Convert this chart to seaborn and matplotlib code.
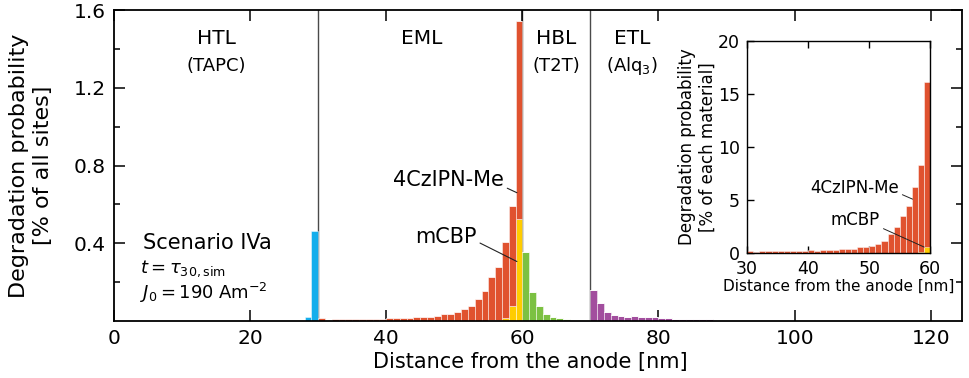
import numpy as np
import pandas as pd
import matplotlib
matplotlib.use("Agg")
import matplotlib.pyplot as plt
import seaborn as sns

# ---------------- data ----------------
# main panel: degradation probability [% of all sites], 1-nm slices
tapc_start = 28
tapc = [0.021, 0.465]

eml_start = 30
dopant_all = [0.014, 0.005, 0.009, 0.012, 0.009, 0.009, 0.009, 0.009, 0.009, 0.010,
              0.015, 0.014, 0.015, 0.017, 0.020, 0.022, 0.022, 0.026, 0.036, 0.036,
              0.046, 0.060, 0.077, 0.110, 0.154, 0.222, 0.276, 0.388, 0.515, 1.017]
mcbp_all = [0.0, 0.0, 0.0, 0.0, 0.0, 0.0, 0.0, 0.0, 0.0, 0.0,
            0.0, 0.0, 0.0, 0.0, 0.0, 0.0, 0.0, 0.0, 0.0, 0.0,
            0.0, 0.0, 0.0, 0.002, 0.002, 0.003, 0.004, 0.017, 0.079, 0.526]

t2t_start = 60
t2t = [0.357, 0.151, 0.075, 0.035, 0.023, 0.016, 0.010, 0.006, 0.004, 0.003]

alq3_start = 70
alq3 = [0.160, 0.093, 0.044, 0.032, 0.026, 0.020, 0.028, 0.019, 0.020, 0.020,
        0.014, 0.014, 0.012, 0.011, 0.011, 0.010, 0.009, 0.008, 0.007, 0.006,
        0.004, 0.004, 0.004, 0.003, 0.003, 0.002, 0.002, 0.002, 0.002, 0.002,
        0.002, 0.002, 0.002, 0.002, 0.002, 0.002, 0.002, 0.002, 0.002, 0.002,
        0.002, 0.002, 0.002, 0.002, 0.002, 0.002, 0.002, 0.002, 0.002, 0.002,
        0.002, 0.002, 0.002, 0.002]

# inset: degradation probability [% of each material] in the EML
inset_dopant = [0.22, 0.08, 0.14, 0.19, 0.14, 0.14, 0.14, 0.14, 0.14, 0.16,
                0.24, 0.22, 0.24, 0.27, 0.30, 0.35, 0.35, 0.41, 0.53, 0.57,
                0.69, 0.82, 1.13, 1.76, 2.40, 3.50, 4.46, 6.20, 8.30, 16.10]
inset_mcbp = [0.0] * 27 + [0.02, 0.08, 0.55]

# first hue level is stacked on top in seaborn's "stack" mode
materials = ["TAPC", "4CzIPN-Me", "mCBP", "T2T", "Alq3"]
colors = {"TAPC": "#14AEEC", "mCBP": "#FFCC00", "4CzIPN-Me": "#E0522F",
          "T2T": "#7CC142", "Alq3": "#A24E9E"}

layer_names = ["HTL", "EML", "HBL", "ETL"]
layer_mats = ["(TAPC)", "", "(T2T)", "(Alq$_3$)"]
layer_x = [15.1, 45.2, 65.0, 76.1]
boundaries = [30, 60, 70]


def frame(start, values, mat):
    pos = start + np.arange(len(values)) + 0.5
    return pd.DataFrame({"pos": pos, "value": np.asarray(values, float), "material": mat})


df = pd.concat([frame(tapc_start, tapc, "TAPC"),
                frame(eml_start, mcbp_all, "mCBP"),
                frame(eml_start, dopant_all, "4CzIPN-Me"),
                frame(t2t_start, t2t, "T2T"),
                frame(alq3_start, alq3, "Alq3")], ignore_index=True)

df_in_dop = frame(eml_start, inset_dopant, "4CzIPN-Me")
df_in_mcbp = frame(eml_start, inset_mcbp, "mCBP")

# ---------------- figure ----------------
sns.set_style("ticks")
plt.rcParams.update({
    "font.family": ["DejaVu Sans"],
    "mathtext.fontset": "dejavusans",
    "text.color": "black",
    "axes.labelcolor": "black",
    "axes.edgecolor": "black",
    "xtick.color": "black",
    "ytick.color": "black",
})

fig = plt.figure(figsize=(9.69, 3.78), dpi=100)
ax = fig.add_axes([0.1176, 0.1508, 0.8749, 0.8227])

edge = (1, 1, 1, 0.55)
sns.histplot(data=df, x="pos", weights="value", hue="material",
             hue_order=materials, palette=colors, binwidth=1, binrange=(0, 124),
             multiple="stack", element="bars", alpha=1, edgecolor=edge,
             linewidth=0.6, legend=False, ax=ax)

for b in boundaries:
    ax.axvline(b, color="#4a4a4a", lw=1.0, zorder=0.5)

ax.set_xlim(0, 124.55)
ax.set_ylim(0, 1.6)
ax.set_xticks(np.arange(0, 121, 20))
ax.set_yticks([0.4, 0.8, 1.2, 1.6])
ax.set_yticks([0.2, 0.6, 1.0, 1.4], minor=True)
ax.set_yticklabels(["0.4", "0.8", "1.2", "1.6"])
ax.tick_params(which="both", direction="in", top=True, right=True, width=1.1,
               labelsize=14.5, pad=6)
ax.tick_params(which="major", length=8)
ax.tick_params(which="minor", length=4)
for s in ax.spines.values():
    s.set_linewidth(1.3)
ax.set_xlabel("Distance from the anode [nm]", fontsize=15)
ax.xaxis.set_label_coords(0.491, -0.100)
ax.set_ylabel("Degradation probability\n[% of all sites]", fontsize=16, labelpad=15)

for name, mat, x in zip(layer_names, layer_mats, layer_x):
    ax.text(x, 1.452, name, ha="center", va="center", fontsize=14.5)
    if mat:
        ax.text(x, 1.31, mat, ha="center", va="center", fontsize=13)

ax.text(4.2, 0.40, "Scenario IVa", ha="left", va="center", fontsize=15)
ax.text(3.8, 0.267, r"$t = \tau_{30,\mathrm{sim}}$", ha="left", va="center", fontsize=13)
ax.text(3.8, 0.143, r"$J_0 = 190\;\mathrm{Am}^{-2}$", ha="left", va="center", fontsize=13)

ax.annotate("4CzIPN-Me", xy=(59.2, 0.66), xytext=(57.3, 0.727), ha="right",
            va="center", fontsize=15,
            arrowprops=dict(arrowstyle="-", color="#222222", lw=0.8,
                            shrinkA=0, shrinkB=0, relpos=(1.0, 0.15)))
ax.annotate("mCBP", xy=(59.2, 0.306), xytext=(53.3, 0.43), ha="right",
            va="center", fontsize=15,
            arrowprops=dict(arrowstyle="-", color="#222222", lw=0.8,
                            shrinkA=0, shrinkB=0, relpos=(1.0, 0.3)))

# ---------------- inset ----------------
axi = fig.add_axes([0.771, 0.331, 0.189, 0.561])
sns.histplot(data=df_in_dop, x="pos", weights="value", binwidth=1, binrange=(30, 60),
             color=colors["4CzIPN-Me"], element="bars", alpha=1, edgecolor=edge,
             linewidth=0.6, legend=False, ax=axi)
sns.histplot(data=df_in_mcbp, x="pos", weights="value", binwidth=1, binrange=(30, 60),
             color=colors["mCBP"], element="bars", alpha=1, edgecolor=edge,
             linewidth=0.6, legend=False, ax=axi)
axi.set_xlim(30, 60)
axi.set_ylim(0, 20)
axi.set_xticks([30, 40, 50, 60])
axi.set_yticks([0, 5, 10, 15, 20])
axi.tick_params(direction="in", top=True, right=False, length=5, width=1.0,
                labelsize=12.5)
axi.tick_params(axis="y", pad=5)
axi.tick_params(axis="x", pad=5)
for s in axi.spines.values():
    s.set_linewidth(1.0)
axi.set_xlabel("Distance from the anode [nm]", fontsize=11, labelpad=1)
axi.set_ylabel("Degradation probability\n[% of each material]", fontsize=12, labelpad=1)

axi.annotate("4CzIPN-Me", xy=(57.1, 5.07), xytext=(54.9, 6.13), ha="right",
             va="center", fontsize=12,
             arrowprops=dict(arrowstyle="-", color="#222222", lw=0.7,
                             shrinkA=0, shrinkB=0, relpos=(1.0, 0.2)))
axi.annotate("mCBP", xy=(59.0, 0.55), xytext=(51.8, 3.1), ha="right",
             va="center", fontsize=12,
             arrowprops=dict(arrowstyle="-", color="#222222", lw=0.7,
                             shrinkA=0, shrinkB=0, relpos=(1.0, 0.1)))

fig.savefig("out.png", dpi=100)
